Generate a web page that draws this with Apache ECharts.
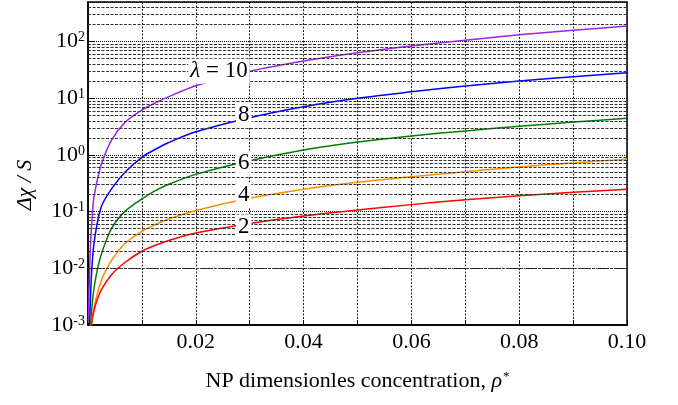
<!DOCTYPE html>
<html><head><meta charset="utf-8">
<script src="https://cdn.jsdelivr.net/npm/echarts@6/dist/echarts.min.js"></script>
<style>html,body{margin:0;padding:0;background:#fff}#c{width:678px;height:405px}</style>
</head><body><div id="c"></div><script>
// x values (NP dimensionless concentration)
const rho = [0.0001, 0.0002, 0.0004, 0.0006, 0.001, 0.0016, 0.0025, 0.0044, 0.0069, 0.01, 0.0125, 0.015, 0.02, 0.03, 0.04, 0.05, 0.06, 0.07, 0.08, 0.09, 0.1];
// Δχ / S for each λ
const lam10 = [0.0011, 0.0045, 0.018, 0.045, 0.15, 0.32, 0.70, 1.84, 3.8, 6.2, 8.3, 10.7, 16.7, 30, 45.5, 63.7, 84, 106, 132, 158, 188];
const lam8 = [null, 0.0004, 0.002, 0.0065, 0.022, 0.055, 0.125, 0.255, 0.50, 0.91, 1.26, 1.66, 2.56, 4.55, 7.1, 10.0, 13.0, 16.5, 20.2, 24.0, 28.3];
const lam6 = [null, 0.0003, 0.0008, 0.0015, 0.0037, 0.0082, 0.018, 0.051, 0.102, 0.168, 0.235, 0.305, 0.455, 0.79, 1.22, 1.69, 2.17, 2.66, 3.2, 3.8, 4.44];
const lam4 = [null, null, 0.00055, 0.00095, 0.0018, 0.0032, 0.0062, 0.0141, 0.0277, 0.045, 0.059, 0.074, 0.105, 0.172, 0.248, 0.33, 0.414, 0.505, 0.615, 0.725, 0.84];
const lam2 = [null, null, 0.0006, 0.00095, 0.0016, 0.0026, 0.0042, 0.0078, 0.0128, 0.020, 0.0255, 0.031, 0.042, 0.062, 0.084, 0.107, 0.133, 0.162, 0.19, 0.219, 0.248];
const seriesNames = ['λ = 10', 'λ = 8', 'λ = 6', 'λ = 4', 'λ = 2'];
const seriesColors = ['#a020f0', '#0000ff', '#008000', '#ff8c00', '#ff0000'];
// curve labels: text, x, y (data coordinates)
const labelTexts = ['{i|λ} = 10', '8', '6', '4', '2'];
const labelX = [0.0243, 0.0289, 0.0289, 0.0289, 0.0289];
const labelY = [30, 5.07, 0.72, 0.197, 0.0537];
// axis settings
const xTicks = [0.02, 0.04, 0.06, 0.08, 0.10];
const yDecades = [-3, -2, -1, 0, 1, 2];
const yMin = 0.001, yMax = 500;

const FONT = 'Liberation Serif';
const allY = [lam10, lam8, lam6, lam4, lam2];
const minorLines = [];
yDecades.forEach(function (e) {
  for (let m = 2; m <= 9; m++) {
    const v = m * Math.pow(10, e);
    if (v < yMax) minorLines.push({ yAxis: v });
  }
});

const lineSeries = allY.map(function (arr, k) {
  return {
    name: seriesNames[k], type: 'line', showSymbol: false, symbol: 'none',
    smooth: 0.3, clip: true, z: 3,
    lineStyle: { color: seriesColors[k], width: 1.5 },
    data: rho.map(function (x, i) { return [x, arr[i]]; }).filter(function (p) { return p[1] != null; })
  };
});

const chart = echarts.init(document.getElementById('c'), null, { renderer: 'canvas' });
chart.setOption({
  animation: false,
  backgroundColor: '#fff',
  grid: { left: 88, right: 51, top: 2, bottom: 80, show: true, borderColor: '#000', borderWidth: 1.5, backgroundColor: 'transparent' },
  xAxis: {
    type: 'value', min: 0, max: 0.1, interval: 0.01,
    axisLine: { show: true, lineStyle: { color: '#000', width: 1.5 } },
    axisTick: { show: true, inside: true, length: 5, lineStyle: { color: '#000' } },
    splitLine: { show: true, lineStyle: { color: '#222', type: [2, 1.5], width: 1 } },
    axisLabel: {
      margin: 6, color: '#000', fontFamily: FONT, fontSize: 22,
      formatter: function (v) {
        for (let i = 0; i < xTicks.length; i++) if (Math.abs(v - xTicks[i]) < 1e-9) return xTicks[i].toFixed(2);
        return '';
      }
    },
    name: 'NP dimensionles concentration, {i|ρ}{s|*}',
    nameLocation: 'middle', nameGap: 45,
    nameTextStyle: {
      color: '#000', fontFamily: FONT, fontSize: 22,
      rich: {
        i: { fontFamily: FONT, fontSize: 22, fontStyle: 'italic', color: '#000' },
        s: { fontFamily: FONT, fontSize: 13, color: '#000', verticalAlign: 'top', padding: [0, 0, 0, 1] }
      }
    }
  },
  yAxis: {
    type: 'log', logBase: 10, min: yMin, max: yMax,
    axisLine: { show: true, lineStyle: { color: '#000', width: 1.5 } },
    axisTick: { show: true, inside: true, length: 6, lineStyle: { color: '#000' } },
    splitLine: { show: true, lineStyle: { color: '#000', type: [1, 1], width: 1 } },
    axisLabel: {
      margin: 3, color: '#000', fontFamily: FONT, showMaxLabel: false,
      formatter: function (v) {
        const l = Math.log10(v), e = Math.round(l);
        if (Math.abs(l - e) > 1e-6 || yDecades.indexOf(e) < 0) return '';
        return '{b|10}{s|' + e + '}';
      },
      rich: {
        b: { fontFamily: FONT, fontSize: 22, color: '#000' },
        s: { fontFamily: FONT, fontSize: 14, color: '#000', verticalAlign: 'top' }
      }
    }
  },
  graphic: [{
    type: 'text', x: 25, y: 185, rotation: Math.PI / 2,
    style: { text: 'Δχ / S', fontFamily: FONT, fontSize: 22, fontStyle: 'italic', fill: '#000', align: 'center', verticalAlign: 'middle' }
  }],
  series: lineSeries.concat([
    {
      name: 'minor-grid', type: 'line', data: [], silent: true,
      markLine: {
        silent: true, symbol: ['none', 'none'], animation: false,
        label: { show: false },
        lineStyle: { color: '#333', type: [3, 1.5], width: 1 },
        data: minorLines
      },
      z: 1
    },
    {
      name: 'curve-labels', type: 'scatter', symbolSize: 0, z: 10, silent: true,
      itemStyle: { opacity: 1, color: '#000' },
      data: labelX.map(function (x, i) { return [x, labelY[i], labelTexts[i]]; }),
      label: {
        show: true, position: 'inside', color: '#000', opacity: 1, fontFamily: FONT, fontSize: 23,
        textBorderWidth: 0, textShadowBlur: 0,
        backgroundColor: '#fff', padding: [1, 2],
        formatter: function (p) { return p.data[2]; },
        rich: { i: { fontFamily: FONT, fontSize: 23, fontStyle: 'italic', color: '#000', textBorderWidth: 0 } }
      }
    }
  ])
});
</script></body></html>
